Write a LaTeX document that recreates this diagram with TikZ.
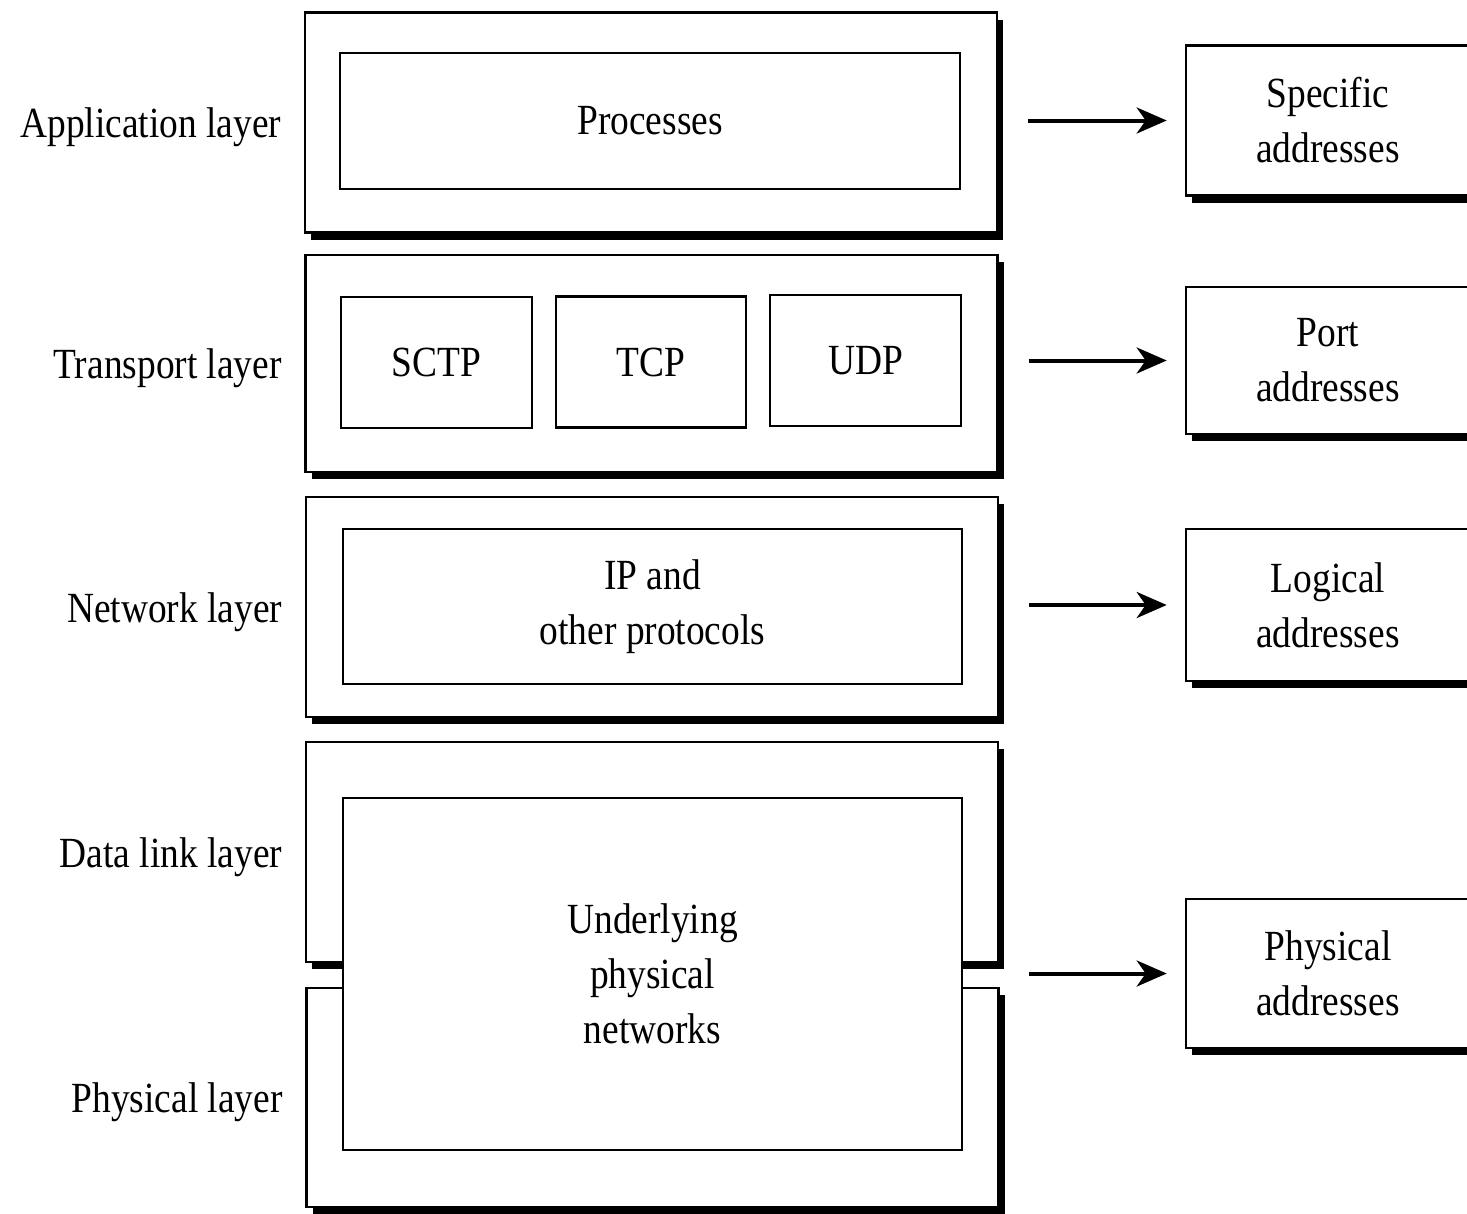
\documentclass[tikz,border=0pt]{standalone}
\usepackage{fontspec}
\setmainfont[FakeStretch=0.87]{Liberation Serif}
\usetikzlibrary{positioning,shadows,arrows.meta}

\begin{document}
\begin{tikzpicture}[x=1pt, y=-1pt, line join=miter,
    >={Stealth[length=30pt, width=26pt, inset=9pt]},
    font=\fontsize{43pt}{55pt}\selectfont,
    laag/.style={draw, line width=2.6pt, fill=white, inner sep=0pt,
      minimum width=692pt, minimum height=220pt,
      drop shadow={shadow xshift=6pt, shadow yshift=-7pt, fill=black, opacity=1}},
    proto/.style={draw, line width=2.6pt, fill=white, inner sep=0pt, align=center},
    adres/.style={laag, minimum width=284pt, minimum height=150pt, align=center},
    naam/.style={yshift=-5pt},
    pijl/.style={->, line width=4pt, shorten <=30pt, shorten >=18pt}]
        \useasboundingbox (0,0) rectangle (1467,1213);

        % Lagen met protocollen
        \node[laag] (app) at (651,122.5) {};
        \node[proto, minimum width=620pt, minimum height=136pt] (proc) at (650,121) {Processes};

        \node[laag, minimum height=217pt] (trans) at (651.5,363.5) {};
        \node[proto, minimum width=191pt, minimum height=131pt] (sctp) at (436.5,362.5) {SCTP};
        \node[proto, minimum width=190pt, minimum height=131pt] (tcp) at (651,362) {TCP};
        \node[proto, minimum width=191pt, minimum height=131pt] (udp) at (865.5,360.5) {UDP};

        \node[laag] (net) at (652,607) {};
        \node[proto, minimum width=619pt, minimum height=155pt] (ip) at (652.5,606.5) {IP and\\other protocols};

        \node[laag] (dll) at (652,852) {};
        \node[laag, minimum height=219pt] (phy) at (652.5,1097.5) {};
        \node[proto, minimum width=619pt, minimum height=352pt] (under) at (652.5,974) {Underlying\\physical\\networks};

        % Namen van de lagen
        \node[naam, left=19pt of app] (lapp) {Application layer};
        \node[naam, left=19pt of trans] (ltrans) {Transport layer};
        \node[naam, left=19pt of net] (lnet) {Network layer};
        \node[naam, left=19pt of dll] (ldll) {Data link layer};
        \node[naam, left=19pt of phy] (lphy) {Physical layer};

        % Adressen (rechts)
        \node[adres] (spec) at (1328,120.5) {Specific\\addresses};
        \node[adres, minimum height=147pt] (port) at (1328,360.5) {Port\\addresses};
        \node[adres, minimum height=152pt] (logi) at (1328,605) {Logical\\addresses};
        \node[adres, minimum height=149pt] (phad) at (1328,973.5) {Physical\\addresses};

        % Pijlen
        \draw[pijl] (spec.west -| app.east) -- (spec.west);
        \draw[pijl] (port.west -| trans.east) -- (port.west);
        \draw[pijl] (logi.west -| net.east) -- (logi.west);
        \draw[pijl] (phad.west -| dll.east) -- (phad.west);
      \end{tikzpicture}
\end{document}
